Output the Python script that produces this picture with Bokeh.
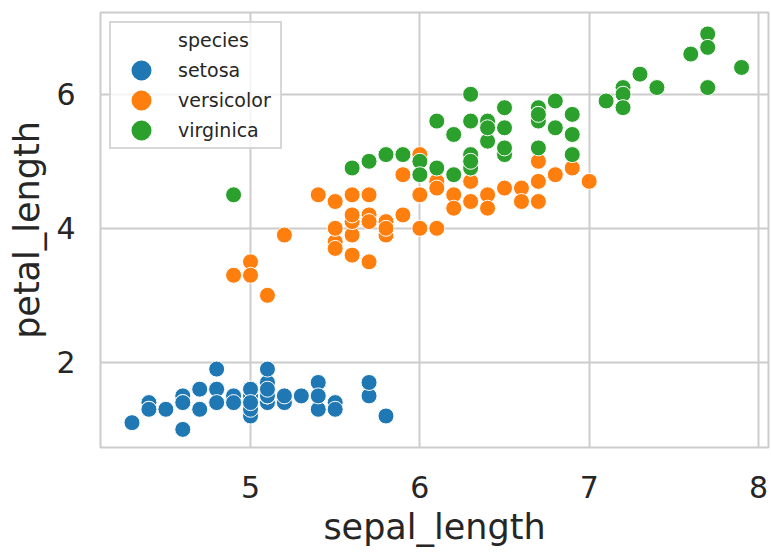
from bokeh.plotting import figure
from bokeh.models import Range1d, FixedTicker, Legend, LegendItem
from bokeh.embed import file_html
from bokeh.resources import INLINE

species = ["setosa", "versicolor", "virginica"]
colors = ["#1f77b4", "#ff7f0e", "#2ca02c"]

setosa_sepal = [5.1, 4.9, 4.7, 4.6, 5.0, 5.4, 4.6, 5.0, 4.4, 4.9, 5.4, 4.8, 4.8, 4.3, 5.8, 5.7, 5.4, 5.1, 5.7, 5.1,
                5.4, 5.1, 4.6, 5.1, 4.8, 5.0, 5.0, 5.2, 5.2, 4.7, 4.8, 5.4, 5.2, 5.5, 4.9, 5.0, 5.5, 4.9, 4.4, 5.1,
                5.0, 4.5, 4.4, 5.0, 5.1, 4.8, 5.1, 4.6, 5.3, 5.0]
setosa_petal = [1.4, 1.4, 1.3, 1.5, 1.4, 1.7, 1.4, 1.5, 1.4, 1.5, 1.5, 1.6, 1.4, 1.1, 1.2, 1.5, 1.3, 1.4, 1.7, 1.5,
                1.7, 1.5, 1.0, 1.7, 1.9, 1.6, 1.6, 1.5, 1.4, 1.6, 1.6, 1.5, 1.5, 1.4, 1.5, 1.2, 1.3, 1.4, 1.3, 1.5,
                1.3, 1.3, 1.3, 1.6, 1.9, 1.4, 1.6, 1.4, 1.5, 1.4]
versicolor_sepal = [7.0, 6.4, 6.9, 5.5, 6.5, 5.7, 6.3, 4.9, 6.6, 5.2, 5.0, 5.9, 6.0, 6.1, 5.6, 6.7, 5.6, 5.8, 6.2, 5.6,
                    5.9, 6.1, 6.3, 6.1, 6.4, 6.6, 6.8, 6.7, 6.0, 5.7, 5.5, 5.5, 5.8, 6.0, 5.4, 6.0, 6.7, 6.3, 5.6, 5.5,
                    5.5, 6.1, 5.8, 5.0, 5.6, 5.7, 5.7, 6.2, 5.1, 5.7]
versicolor_petal = [4.7, 4.5, 4.9, 4.0, 4.6, 4.5, 4.7, 3.3, 4.6, 3.9, 3.5, 4.2, 4.0, 4.7, 3.6, 4.4, 4.5, 4.1, 4.5, 3.9,
                    4.8, 4.0, 4.9, 4.7, 4.3, 4.4, 4.8, 5.0, 4.5, 3.5, 3.8, 3.7, 3.9, 5.1, 4.5, 4.5, 4.7, 4.4, 4.1, 4.0,
                    4.4, 4.6, 4.0, 3.3, 4.2, 4.2, 4.2, 4.3, 3.0, 4.1]
virginica_sepal = [6.3, 5.8, 7.1, 6.3, 6.5, 7.6, 4.9, 7.3, 6.7, 7.2, 6.5, 6.4, 6.8, 5.7, 5.8, 6.4, 6.5, 7.7, 7.7, 6.0,
                   6.9, 5.6, 7.7, 6.3, 6.7, 7.2, 6.2, 6.1, 6.4, 7.2, 7.4, 7.9, 6.4, 6.3, 6.1, 7.7, 6.3, 6.4, 6.0, 6.9,
                   6.7, 6.9, 5.8, 6.8, 6.7, 6.7, 6.3, 6.5, 6.2, 5.9]
virginica_petal = [6.0, 5.1, 5.9, 5.6, 5.8, 6.6, 4.5, 6.3, 5.8, 6.1, 5.1, 5.3, 5.5, 5.0, 5.1, 5.3, 5.5, 6.7, 6.9, 5.0,
                   5.7, 4.9, 6.7, 4.9, 5.7, 6.0, 4.8, 4.9, 5.6, 5.8, 6.1, 6.4, 5.6, 5.1, 5.6, 6.1, 5.6, 5.5, 4.8, 5.4,
                   5.6, 5.1, 5.1, 5.9, 5.7, 5.2, 5.0, 5.2, 5.4, 5.1]

x_ticks = [5, 6, 7, 8]
y_ticks = [2, 4, 6]

FONT = "DejaVu Sans"
TXT = "#262626"
GRID = "#cccccc"
NAN = float("nan")

p = figure(width=771, height=553, output_backend="svg", toolbar_location=None,
           x_range=Range1d(4.114, 8.059), y_range=Range1d(0.73, 7.22),
           min_border_left=100, min_border_right=3, min_border_top=12, min_border_bottom=106)

p.background_fill_color = "white"
p.border_fill_color = "white"
p.outline_line_color = GRID
p.outline_line_width = 2

for ax in (p.xaxis[0], p.yaxis[0]):
    ax.axis_line_color = None
    ax.major_tick_line_color = None
    ax.minor_tick_line_color = None
    ax.major_tick_out = 0
    ax.major_tick_in = 0
    ax.minor_tick_out = 0
    ax.minor_tick_in = 0
    ax.major_label_text_font = FONT
    ax.major_label_text_font_size = "30px"
    ax.major_label_text_color = TXT
    ax.axis_label_text_font = FONT
    ax.axis_label_text_font_size = "35px"
    ax.axis_label_text_font_style = "normal"
    ax.axis_label_text_color = TXT

p.xaxis[0].ticker = FixedTicker(ticks=x_ticks)
p.yaxis[0].ticker = FixedTicker(ticks=y_ticks)
p.xaxis[0].axis_label = "sepal_length"
p.yaxis[0].axis_label = "petal_length"
p.xaxis[0].major_label_standoff = 28
p.yaxis[0].major_label_standoff = 25
p.xaxis[0].axis_label_standoff = 6
p.yaxis[0].axis_label_standoff = 6

p.xgrid.grid_line_color = GRID
p.ygrid.grid_line_color = GRID
p.xgrid.grid_line_width = 2
p.ygrid.grid_line_width = 2

data = [(setosa_sepal, setosa_petal), (versicolor_sepal, versicolor_petal), (virginica_sepal, virginica_petal)]
renderers = []
for (xs, ys), c in zip(data, colors):
    r = p.scatter(xs, ys, size=16, fill_color=c, line_color="white", line_width=1)
    renderers.append(r)

# legend-only glyphs (NaN position, never drawn on the plot), drawn larger like the reference's legend markers
title_r = p.scatter([NAN], [NAN], fill_alpha=0, line_alpha=0)
items = [LegendItem(label="species", renderers=[title_r])]
for name, c in zip(species, colors):
    lr = p.scatter([NAN], [NAN], fill_color=c, line_color=c, line_width=8)
    items.append(LegendItem(label=name, renderers=[lr]))

legend = Legend(items=items, location="top_left", margin=9,
                padding=2, spacing=0, glyph_width=56, glyph_height=30, label_height=20,
                label_width=100, label_standoff=9, label_text_font=FONT, label_text_font_size="19px",
                label_text_color=TXT, border_line_color=GRID, border_line_width=2,
                border_line_alpha=0.8, background_fill_alpha=0.8)
p.add_layout(legend)

open("out.html", "w").write(file_html(p, INLINE))
